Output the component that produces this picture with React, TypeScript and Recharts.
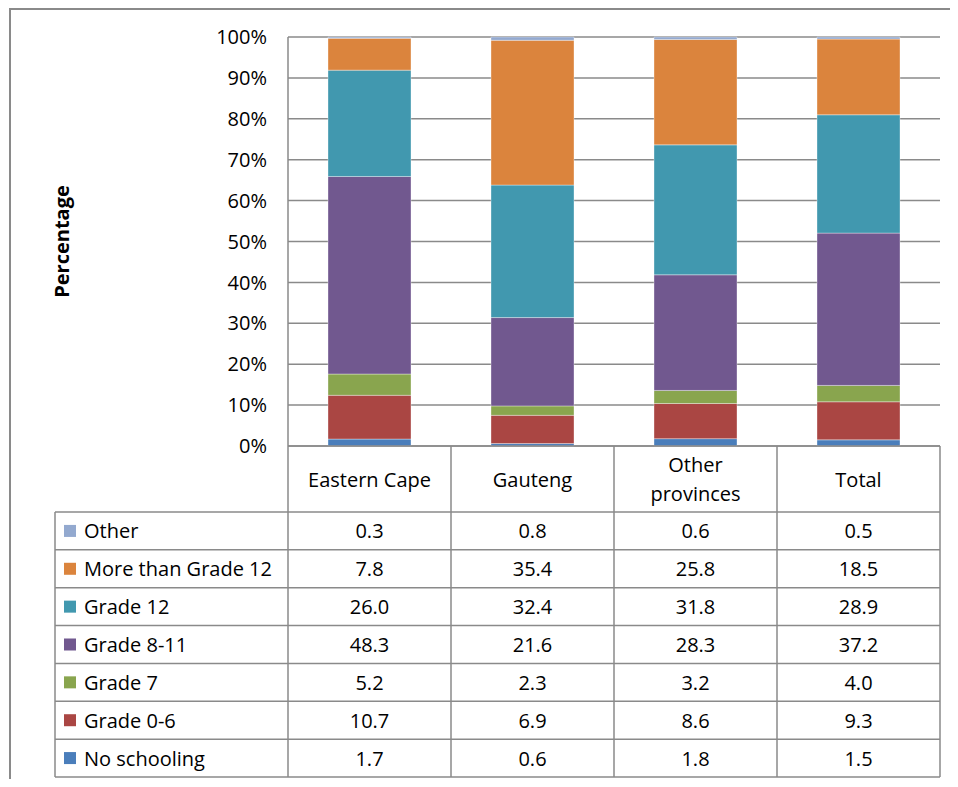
import { BarChart, Bar, XAxis, YAxis, CartesianGrid } from 'recharts';

const categories = ['Eastern Cape', 'Gauteng', 'Other provinces', 'Total'];
const categoryLines = [['Eastern Cape'], ['Gauteng'], ['Other', 'provinces'], ['Total']];

const noSchooling = [1.7, 0.6, 1.8, 1.5];
const grade0to6 = [10.7, 6.9, 8.6, 9.3];
const grade7 = [5.2, 2.3, 3.2, 4.0];
const grade8to11 = [48.3, 21.6, 28.3, 37.2];
const grade12 = [26.0, 32.4, 31.8, 28.9];
const moreThan12 = [7.8, 35.4, 25.8, 18.5];
const other = [0.3, 0.8, 0.6, 0.5];

const yTicks = [0, 0.1, 0.2, 0.3, 0.4, 0.5, 0.6, 0.7, 0.8, 0.9, 1];

// bottom of the stack first
const seriesList = [
  { key: 'noSchooling', name: 'No schooling', values: noSchooling, color: '#4A7EBB' },
  { key: 'grade0to6', name: 'Grade 0-6', values: grade0to6, color: '#AA4643' },
  { key: 'grade7', name: 'Grade 7', values: grade7, color: '#89A54E' },
  { key: 'grade8to11', name: 'Grade 8-11', values: grade8to11, color: '#71588F' },
  { key: 'grade12', name: 'Grade 12', values: grade12, color: '#4198AF' },
  { key: 'moreThan12', name: 'More than Grade 12', values: moreThan12, color: '#DB843D' },
  { key: 'other', name: 'Other', values: other, color: '#93A9CF' },
];
// the table lists them top of the stack first
const tableRows = [...seriesList].reverse();

const data = categories.map((name, i) => {
  const row: Record<string, string | number> = { name };
  seriesList.forEach((s) => {
    row[s.key] = s.values[i];
  });
  return row;
});

const CHART_W = 950;
const CHART_H = 779;
const MARGIN = { top: 29, right: 18, bottom: 10, left: 0 };
const Y_AXIS_W = 280;
const X_AXIS_H = 331;
const HEADER_H = 66;
const ROW_H = (X_AXIS_H - HEADER_H) / tableRows.length;
const PLOT_W = CHART_W - MARGIN.left - MARGIN.right - Y_AXIS_W;
const LEGEND_LEFT = 47;
const LINE = '#8a8a8a';
const FONT = 20;

function TableColumn(props: any) {
  const { x, y, index } = props;
  const n = categories.length;
  const colW = PLOT_W / n;
  const left = x - colW / 2;
  const right = x + colW / 2;
  const tableRight = left + colW * (n - index);
  const rowsTop = y + HEADER_H;
  const tableBottom = y + X_AXIS_H;
  const lines = categoryLines[index];
  const headerMid = y + HEADER_H / 2;

  return (
    <g>
      {index === 0 && (
        <g>
          <line x1={left} y1={y} x2={left} y2={tableBottom} stroke={LINE} strokeWidth={1.5} />
          <line x1={LEGEND_LEFT} y1={rowsTop} x2={LEGEND_LEFT} y2={tableBottom} stroke={LINE} strokeWidth={1.5} />
          {tableRows.map((s, r) => {
            const top = rowsTop + r * ROW_H;
            return (
              <g key={s.key}>
                <line x1={LEGEND_LEFT} y1={top} x2={tableRight} y2={top} stroke={LINE} strokeWidth={1.5} />
                <rect x={56} y={top + ROW_H / 2 - 6} width={12} height={12} fill={s.color} />
                <text x={76} y={top + ROW_H / 2} dominantBaseline="central" fill="#000" fontSize={FONT}>
                  {s.name}
                </text>
              </g>
            );
          })}
          <line x1={LEGEND_LEFT} y1={tableBottom} x2={tableRight} y2={tableBottom} stroke={LINE} strokeWidth={1.5} />
        </g>
      )}
      <line x1={right} y1={y} x2={right} y2={tableBottom} stroke={LINE} strokeWidth={1.5} />
      {lines.map((t, k) => (
        <text
          key={t}
          x={x}
          y={headerMid + (k - (lines.length - 1) / 2) * 29}
          textAnchor="middle"
          dominantBaseline="central"
          fill="#000"
          fontSize={FONT}
        >
          {t}
        </text>
      ))}
      {tableRows.map((s, r) => (
        <text
          key={s.key}
          x={x}
          y={rowsTop + r * ROW_H + ROW_H / 2}
          textAnchor="middle"
          dominantBaseline="central"
          fill="#000"
          fontSize={FONT}
        >
          {s.values[index].toFixed(1)}
        </text>
      ))}
    </g>
  );
}

export default function App() {
  return (
    <div
      style={{
        position: 'relative',
        width: CHART_W,
        height: CHART_H,
        marginBottom: -8,
        overflow: 'hidden',
        fontFamily: '"Open Sans", sans-serif',
      }}
    >
      <div
        style={{
          position: 'absolute',
          left: 1,
          top: 0,
          width: CHART_W + 20,
          height: CHART_H + 20,
          borderTop: `2px solid ${LINE}`,
          borderLeft: `2px solid ${LINE}`,
        }}
      />
      <BarChart width={CHART_W} height={CHART_H} data={data} margin={MARGIN} stackOffset="expand" barSize={83}>
        <CartesianGrid vertical={false} stroke={LINE} strokeWidth={1.5} />
        <XAxis
          dataKey="name"
          height={X_AXIS_H}
          interval={0}
          tickLine={false}
          tickSize={0}
          tickMargin={0}
          axisLine={{ stroke: LINE, strokeWidth: 1.5 }}
          tick={(p: any) => <TableColumn {...p} />}
        />
        <YAxis
          type="number"
          width={Y_AXIS_W}
          domain={[0, 1]}
          ticks={yTicks}
          tickFormatter={(v: number) => `${Math.round(v * 100)}%`}
          tickLine={false}
          tickSize={0}
          tickMargin={21}
          axisLine={{ stroke: LINE, strokeWidth: 1.5 }}
          tick={{ fill: '#000', fontSize: FONT }}
          label={{
            value: 'Percentage',
            angle: -90,
            position: 'insideLeft',
            offset: 54,
            style: { textAnchor: 'middle', fontWeight: 700, fill: '#000', fontSize: FONT },
          }}
        />
        {seriesList.map((s) => (
          <Bar
            key={s.key}
            dataKey={s.key}
            name={s.name}
            stackId="a"
            fill={s.color}
            stroke="#ffffff"
            strokeOpacity={0.35}
            strokeWidth={1}
            isAnimationActive={false}
          />
        ))}
      </BarChart>
    </div>
  );
}
